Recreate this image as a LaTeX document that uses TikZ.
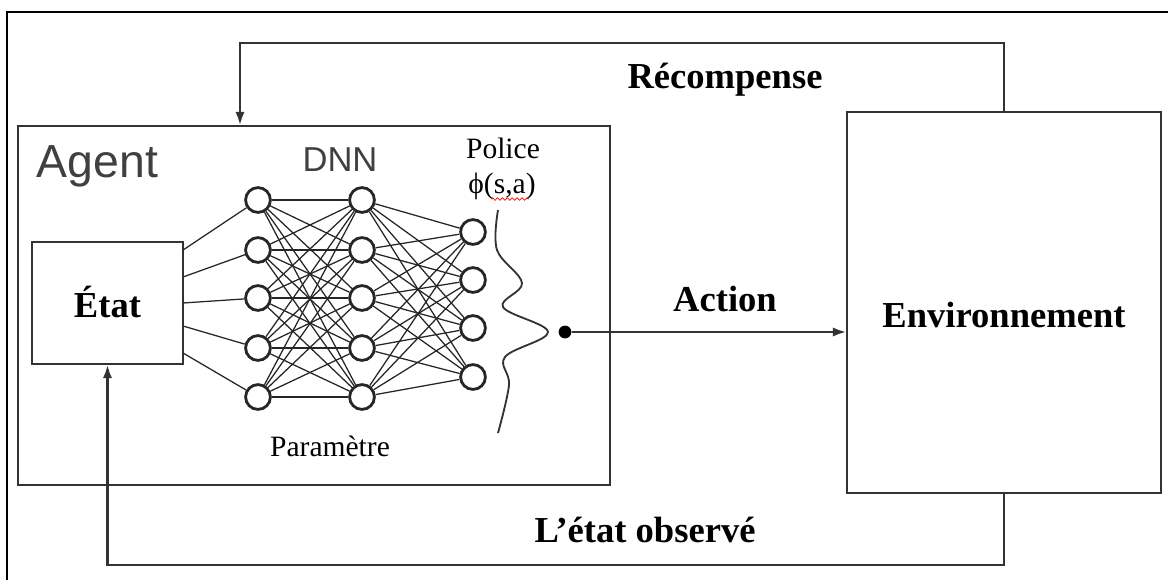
\documentclass[tikz,border=0pt]{standalone}
\usepackage{fontspec}
\setmainfont{Liberation Serif}
\setsansfont{Liberation Sans}
\usetikzlibrary{arrows.meta,calc,decorations.pathmorphing}

\tikzset{
  box/.style={draw=black!80, line width=2pt, inner sep=0pt, outer sep=0pt},
  neuron/.style={circle, draw=black!85, line width=2pt, fill=white, minimum size=0.62cm, inner sep=0pt},
  wire/.style={draw=black!85, line width=0.9pt},
  flow/.style={draw=black!80, line width=2pt, -{Latex[length=10pt,width=6.5pt]}},
  gros/.style={font=\fontsize{26}{30}\selectfont\bfseries},
  petit/.style={font=\fontsize{21}{25}\selectfont},
  grissans/.style={text=black!75, font=\sffamily\fontsize{#1}{#1}\selectfont},
}

\begin{document}
\begin{tikzpicture}[x=0.025cm,y=-0.025cm]
\useasboundingbox (0,0) rectangle (1168,580);
% cadre
\draw[line width=1.3pt] (1168,12) -| (7,580);

% boites
\node[box, minimum width=14.8cm, minimum height=8.975cm] (agent) at (314,305.5) {};
\node[box, minimum width=7.85cm, minimum height=9.525cm] (env) at (1004,302.5) {};
\node[box, fill=white, minimum width=3.775cm, minimum height=3.05cm] (etat) at (107.5,303) {};
\node[gros] (etatlbl) at (107.5,302) {État};
\node[gros] (envlbl) at (1004,315) {Environnement};

\node[grissans=33, anchor=base west] (agentlbl) at (32,177) {Agent};
\node[grissans=24.6] (dnn) at (340,160) {DNN};
\node[petit] (police) at (503,148) {Police};
\node[petit] (phi) at (502,186) {ϕ(s,a)};
\draw[red, line width=0.5pt, decorate, decoration={snake, amplitude=0.9pt, segment length=3.5pt}] (491,199) -- (529,199);
\node[petit] (param) at (330,446) {Paramètre};

% reseau
\foreach \i/\yy in {1/200,2/250,3/298,4/348,5/397} {
  \node[neuron] (a\i) at (258,\yy) {};
  \node[neuron] (b\i) at (362,\yy) {};
}
\foreach \i/\yy in {1/232,2/280,3/328,4/377}
  \node[neuron] (c\i) at (473,\yy) {};
\foreach \i in {1,...,5} \foreach \j in {1,...,5} \draw[wire] (a\i) -- (b\j);
\foreach \i in {1,...,5} \foreach \j in {1,...,4} \draw[wire] (b\i) -- (c\j);
\foreach \i/\d in {1/-53,2/-26,3/0,4/23,5/50} \draw[wire] ($(etat.east)+(0,\d)$) -- (a\i);

% distribution de la police
\draw[black!80, line width=1.3pt] plot[smooth, tension=0.6] coordinates {(498,210) (497,250) (522,283) (503,307) (548,332) (505,357) (509,385) (498,433)};
\node[circle, fill=black, minimum size=0.32cm, inner sep=0pt] (choix) at (565,332) {};

% action
\draw[flow] (choix) -- (choix -| env.west);
\node[gros] (action) at (725,299) {Action};

% recompense
\coordinate (rtop) at (240,43);
\draw[flow] (env.north) |- (rtop) -- (rtop |- agent.north);
\node[gros] (recomp) at (725,80) {Récompense};

% etat observe
\coordinate (obs) at (107.5,565);
\draw[flow] (env.south) |- (obs) -- (etat.south);
\node[gros] (observe) at (645,530) {L’état observé};
%\draw[help lines] (0,0) grid[step=50] (1168,580);
\end{tikzpicture}
\end{document}
